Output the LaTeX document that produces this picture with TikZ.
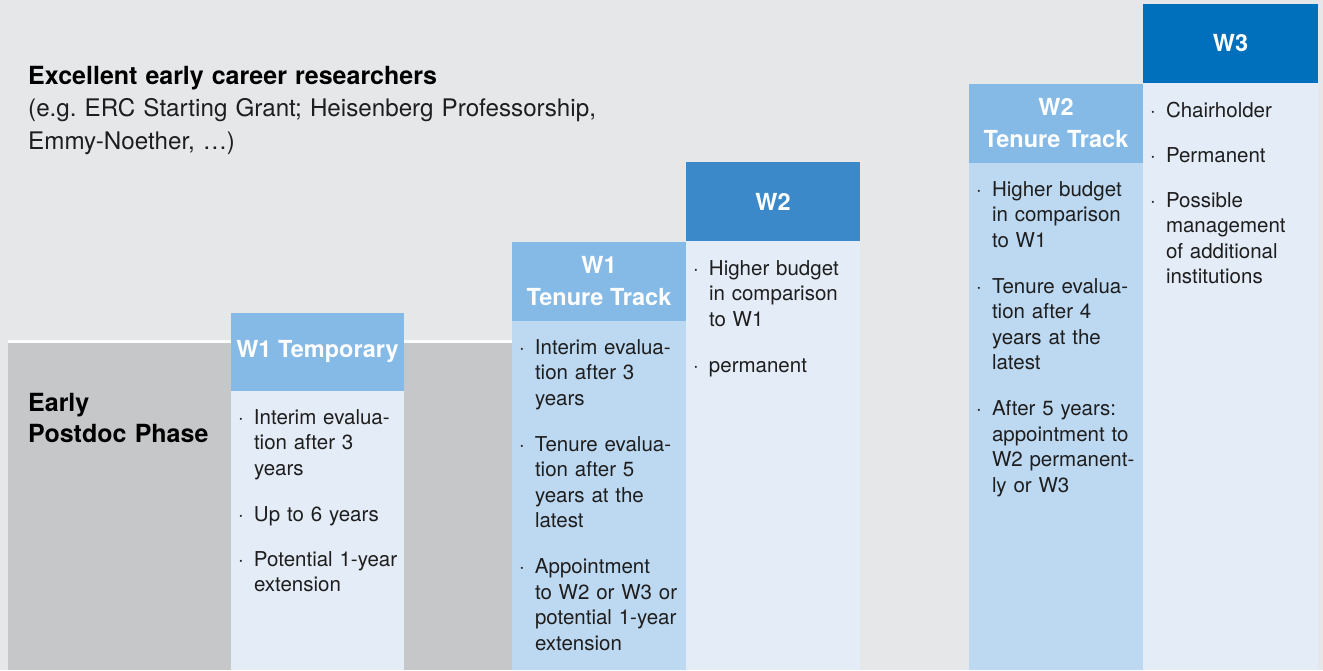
\documentclass[tikz,border=0pt]{standalone}
\usepackage{fontspec}
\setmainfont{TeX Gyre Heros}
\setlength{\parskip}{0pt}
\frenchspacing
\definecolor{bgc}{HTML}{E6E7E9}
\definecolor{grayc}{HTML}{C6C7C9}
\definecolor{hdrlight}{HTML}{85B9E6}
\definecolor{bodymid}{HTML}{BDD8F1}
\definecolor{bodylight}{HTML}{E4ECF7}
\definecolor{hdrmid}{HTML}{3C89CA}
\definecolor{hdrdark}{HTML}{0070BC}
\definecolor{txt}{HTML}{1E1E1E}
\newcommand\bitem[1]{\noindent\makebox[16pt][l]{·}\parbox[t]{150pt}{\raggedright\strut#1\strut}\par}
\newcommand\bgap{\vspace{19.5pt}}
\begin{document}
\begin{tikzpicture}[x=1pt,y=-1pt,
  panel/.style={anchor=north west, inner sep=0pt, outer sep=0pt, draw=none},
  hdrtext/.style={panel, text=white, align=center, font=\fontsize{23.5}{32}\selectfont\bfseries},
  btext/.style={anchor=north west, inner sep=0pt, outer sep=0pt, text width=166pt, align=left, text=txt, font=\fontsize{20.5}{25.5}\selectfont}]
\useasboundingbox (0,0) rectangle (1323,670);
\fill[bgc] (0,0) rectangle (1323,670);
% early postdoc area
\fill[white!90!bgc] (8,340) rectangle (512,342.5);
\fill[grayc] (8,342.5) rectangle (512,670);
\node[anchor=north west, inner sep=0pt, text width=220pt, align=left, font=\fontsize{25}{31}\selectfont\bfseries, text=black] (early) at (28,390) {\strut Early\\Postdoc Phase};
% title
\node[anchor=north west, inner sep=0pt, text width=640pt, align=left, font=\fontsize{24.2}{32.5}\selectfont, text=txt] (title) at (28,61.5) {{\fontsize{25}{32.5}\selectfont\bfseries\color{black}Excellent early career researchers}\strut\\(e.g. ERC Starting Grant; Heisenberg Professorship,\\Emmy-Noether, …)};
% W1 Temporary
\node[panel, fill=bodylight, minimum width=173pt, minimum height=280pt] (w1tb) at (231,390) {};
\node[hdrtext, fill=hdrlight, minimum width=173pt, minimum height=78pt] (w1th) at (231,313) {W1 Temporary};
\node[btext] (w1tx) at (238,406.15) {\bitem{Interim evalua-\\tion after 3\\years}\bgap\bitem{Up to 6 years}\bgap\bitem{Potential 1-year\\extension}};
% W1 Tenure Track
\node[panel, fill=bodymid, minimum width=174pt, minimum height=350pt] (w1ttb) at (512,320) {};
\node[hdrtext, fill=hdrlight, minimum width=174pt, minimum height=79pt] (w1tth) at (512,242) {W1\\Tenure Track};
\node[btext] (w1ttx) at (519,336.15) {\bitem{Interim evalua-\\tion after 3\\years}\bgap\bitem{Tenure evalua-\\tion after 5\\years at the\\latest}\bgap\bitem{Appointment\\to W2 or W3 or\\potential 1-year\\extension}};
% W2
\node[panel, fill=bodylight, minimum width=174pt, minimum height=429pt] (w2b) at (686,241) {};
\node[hdrtext, fill=hdrmid, minimum width=174pt, minimum height=79pt] (w2h) at (686,162) {W2};
\node[btext] (w2x) at (693,257.15) {\bitem{Higher budget\\in comparison\\to W1}\bgap\bitem{permanent}};
% W2 Tenure Track
\node[panel, fill=bodymid, minimum width=174pt, minimum height=508pt] (w2ttb) at (969,162) {};
\node[hdrtext, fill=hdrlight, minimum width=174pt, minimum height=79pt] (w2tth) at (969,84) {W2\\Tenure Track};
\node[btext] (w2ttx) at (976,178.15) {\bitem{Higher budget\\in comparison\\to W1}\bgap\bitem{Tenure evalua-\\tion after 4\\years at the\\latest}\bgap\bitem{After 5 years:\\appointment to\\W2 permanent-\\ly or W3}};
% W3
\node[panel, fill=bodylight, minimum width=175pt, minimum height=587pt] (w3b) at (1143,83) {};
\node[hdrtext, fill=hdrdark, minimum width=175pt, minimum height=79pt] (w3h) at (1143,4) {W3};
\node[btext] (w3x) at (1150,99.15) {\bitem{Chairholder}\bgap\bitem{Permanent}\bgap\bitem{Possible\\management\\of additional\\institutions}};
\end{tikzpicture}
\end{document}
